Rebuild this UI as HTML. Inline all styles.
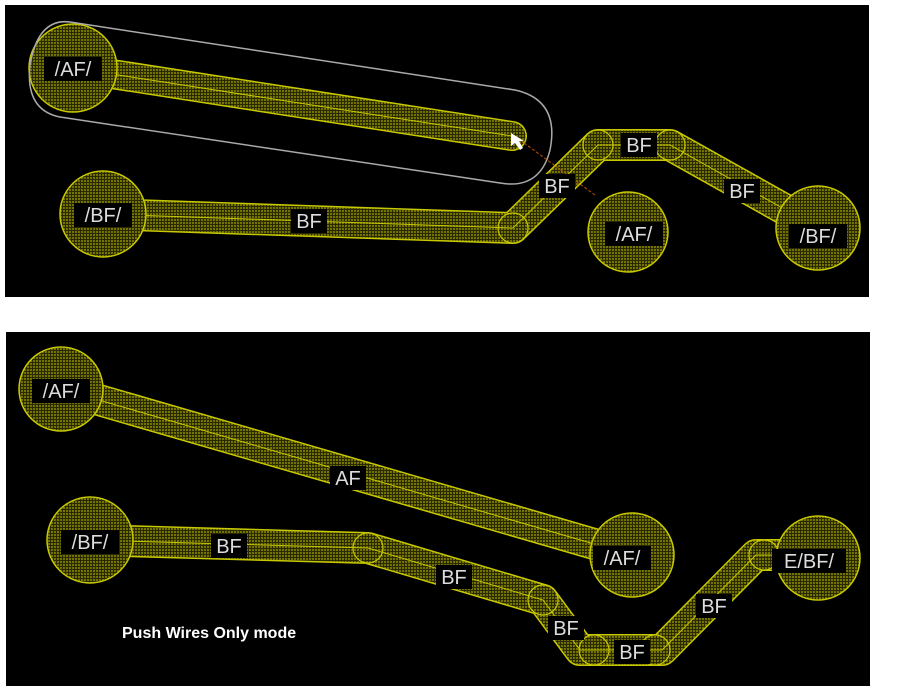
<!DOCTYPE html>
<html><head><meta charset="utf-8"><style>
html,body{margin:0;padding:0;background:#fff;}
svg{display:block}
text{font-family:"Liberation Sans",sans-serif;}
</style></head><body>
<svg width="915" height="692" xmlns="http://www.w3.org/2000/svg">
<defs>
<pattern id="dots" width="3" height="3" patternUnits="userSpaceOnUse">
<rect width="3" height="3" fill="#2a2a00"/>
<rect width="2" height="2" fill="#747200"/>
</pattern>
</defs>
<rect x="5" y="5" width="864" height="292" fill="#000"/>
<rect x="6" y="332" width="864" height="354" fill="#000"/>

<g fill="none" stroke-linecap="round" stroke-linejoin="round">
<path d="M73,68 L512,136" stroke="#c8c800" stroke-width="30"/>
<path d="M73,68 L512,136" stroke="url(#dots)" stroke-width="27"/>
<path d="M103,214 L513,228 L598,145 L670,145 L818,228" stroke="#c8c800" stroke-width="32"/>
<path d="M103,214 L513,228 L598,145 L670,145 L818,228" stroke="url(#dots)" stroke-width="29"/>
<path d="M61,389 L632,555" stroke="#c8c800" stroke-width="32"/>
<path d="M61,389 L632,555" stroke="url(#dots)" stroke-width="29"/>
<path d="M90,540 L368,548 L543,600 L580,650 L662,650 L756,555 L818,555" stroke="#c8c800" stroke-width="32"/>
<path d="M90,540 L368,548 L543,600 L580,650 L662,650 L756,555 L818,555" stroke="url(#dots)" stroke-width="29"/>
</g>
<g fill="none" stroke="#c8c800" stroke-width="1">
<path d="M73,68 L512,136"/>
<path d="M103,214 L513,228 L598,145 L670,145 L818,228"/>
<path d="M61,389 L632,555"/>
<path d="M90,540 L368,548 L543,600 L580,650 L662,650 L756,555 L818,555"/>
</g>
<g fill="url(#dots)" stroke="#c8c800" stroke-width="1.5">
<circle cx="73" cy="68" r="44"/>
<circle cx="103" cy="214" r="43"/>
<circle cx="628" cy="232" r="40"/>
<circle cx="818" cy="228" r="42"/>
<circle cx="61" cy="389" r="42"/>
<circle cx="90" cy="540" r="43"/>
<circle cx="632" cy="555" r="42"/>
<circle cx="818" cy="558" r="42"/>
</g>
<g fill="none" stroke="#c8c800" stroke-width="1.2">
<circle cx="513" cy="228" r="15"/>
<circle cx="598" cy="145" r="15"/>
<circle cx="670" cy="145" r="15"/>
<circle cx="368" cy="548" r="15"/>
<circle cx="543" cy="600" r="15"/>
<circle cx="594" cy="650" r="15"/>
<circle cx="655" cy="650" r="15"/>
<circle cx="764" cy="555" r="15"/>
</g>
<path d="M70,22 L515,90 Q560,100 550,150 Q540,190 500,183 L60,117 Q25,110 30,65 Q38,18 70,22 Z" fill="none" stroke="#aaa" stroke-width="1.5"/>
<path d="M520,140 L595,195" stroke="#c05000" stroke-width="1" stroke-dasharray="3,2"/>
<path d="M511,133 L511,146 L515,143 L520,150 L523,148 L519,141 L524,141 Z" fill="#fff"/>

<g font-size="20" fill="#ddd" text-anchor="middle">
<rect x="44" y="57" width="58" height="24" fill="#000"/><text x="73" y="76">/AF/</text>
<rect x="74" y="203" width="58" height="24" fill="#000"/><text x="103" y="222">/BF/</text>
<rect x="291" y="209" width="36" height="24" fill="#000"/><text x="309" y="228">BF</text>
<rect x="539" y="174" width="36" height="24" fill="#000"/><text x="557" y="193">BF</text>
<rect x="621" y="133" width="36" height="24" fill="#000"/><text x="639" y="152">BF</text>
<rect x="724" y="179" width="36" height="24" fill="#000"/><text x="742" y="198">BF</text>
<rect x="605" y="222" width="58" height="24" fill="#000"/><text x="634" y="241">/AF/</text>
<rect x="789" y="224" width="58" height="24" fill="#000"/><text x="818" y="243">/BF/</text>

<rect x="32" y="379" width="58" height="24" fill="#000"/><text x="61" y="398">/AF/</text>
<rect x="330" y="466" width="36" height="24" fill="#000"/><text x="348" y="485">AF</text>
<rect x="61" y="530" width="58" height="24" fill="#000"/><text x="90" y="549">/BF/</text>
<rect x="211" y="534" width="36" height="24" fill="#000"/><text x="229" y="553">BF</text>
<rect x="436" y="565" width="36" height="24" fill="#000"/><text x="454" y="584">BF</text>
<rect x="548" y="616" width="36" height="24" fill="#000"/><text x="566" y="635">BF</text>
<rect x="614" y="640" width="36" height="24" fill="#000"/><text x="632" y="659">BF</text>
<rect x="696" y="594" width="36" height="24" fill="#000"/><text x="714" y="613">BF</text>
<rect x="593" y="546" width="58" height="24" fill="#000"/><text x="622" y="565">/AF/</text>
<rect x="772" y="549" width="74" height="24" fill="#000"/><text x="809" y="568">E/BF/</text>
</g>
<text x="122" y="638" font-size="16" font-weight="bold" fill="#fff">Push Wires Only mode</text>
</svg>
</body></html>
